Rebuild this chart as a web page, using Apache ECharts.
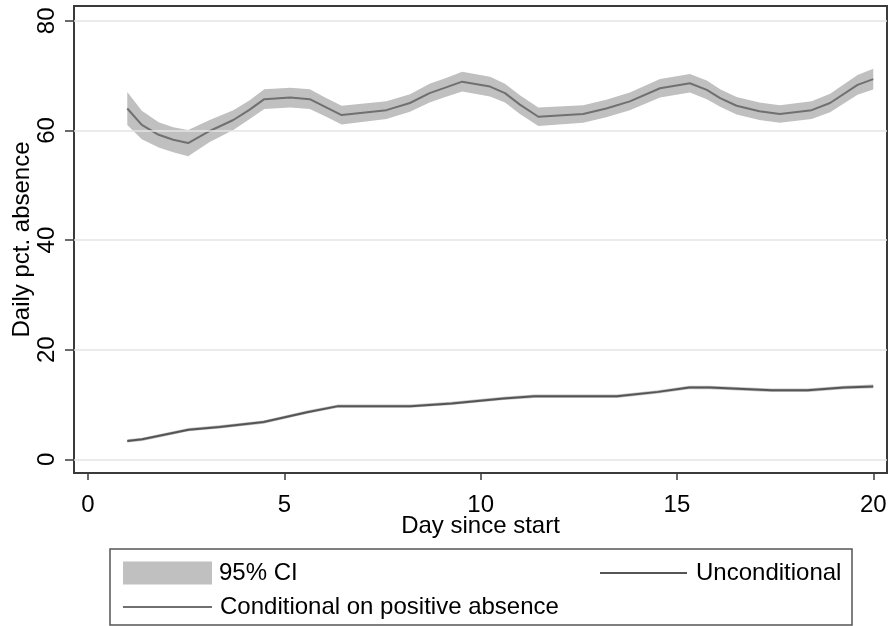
<!DOCTYPE html>
<html>
<head>
<meta charset="utf-8">
<script src="https://cdn.jsdelivr.net/npm/echarts@6/dist/echarts.min.js"></script>
<style>html,body{margin:0;padding:0;background:#fff}#c{width:890px;height:626px}</style>
</head>
<body>
<div id="c"></div>
<script>
// Conditional on positive absence (upper curve)
var condDays = [1, 1.37, 1.8, 2.17, 2.55, 3.1, 3.7, 4.1, 4.49, 5.15, 5.65, 6.04, 6.46, 7.6, 8.2, 8.7, 9.1, 9.53, 10.24, 10.62, 11.0, 11.47, 12.61, 13.2, 13.8, 14.57, 15.33, 15.76, 16.1, 16.52, 17.1, 17.62, 18.43, 18.9, 19.6, 20];
var condMean = [64.0, 61.0, 59.2, 58.3, 57.7, 59.9, 61.9, 63.7, 65.7, 66.0, 65.7, 64.3, 62.8, 63.7, 65.0, 66.8, 67.8, 68.9, 68.0, 66.8, 64.7, 62.5, 63.0, 64.0, 65.3, 67.7, 68.6, 67.4, 65.9, 64.5, 63.5, 63.0, 63.7, 65.0, 68.3, 69.35];
var condHalfCI = [3.0, 2.6, 2.3, 2.3, 2.4, 2.0, 1.8, 1.7, 1.8, 1.8, 1.8, 1.7, 1.7, 1.6, 1.6, 1.7, 1.7, 1.8, 1.8, 1.7, 1.7, 1.7, 1.6, 1.6, 1.6, 1.7, 1.7, 1.7, 1.6, 1.6, 1.6, 1.6, 1.6, 1.7, 1.8, 1.9];
// Unconditional (lower curve)
var uncDays = [1, 1.38, 2.56, 3.35, 4.47, 5.58, 6.37, 8.21, 9.26, 10.58, 11.37, 13.47, 14.52, 15.31, 15.84, 17.41, 18.33, 19.25, 20];
var uncMean = [3.35, 3.65, 5.4, 5.9, 6.8, 8.6, 9.7, 9.7, 10.2, 11.1, 11.5, 11.5, 12.3, 13.1, 13.1, 12.6, 12.6, 13.1, 13.3];
var uncHalfCI = [0.3, 0.3, 0.3, 0.3, 0.3, 0.3, 0.3, 0.3, 0.3, 0.3, 0.3, 0.3, 0.3, 0.3, 0.3, 0.3, 0.3, 0.3, 0.35];
// Axis ticks
var xTicks = [0, 5, 10, 15, 20];
var yTicks = [0, 20, 40, 60, 80];

var FONT = "'Liberation Sans', Arial, sans-serif";
var bandColor = '#c0c0c0';
function pairs(xs, ys) { return xs.map(function (x, i) { return [x, ys[i]]; }); }
function bandRows(xs, m, h) { return xs.map(function (x, i) { return [x, m[i] - h[i], m[i] + h[i]]; }); }
function bandRender(rows) {
  return function (params, api) {
    if (params.dataIndex !== 0) return null;
    var pts = [], i;
    for (i = 0; i < rows.length; i++) pts.push(api.coord([rows[i][0], rows[i][2]]));
    for (i = rows.length - 1; i >= 0; i--) pts.push(api.coord([rows[i][0], rows[i][1]]));
    return { type: 'polygon', shape: { points: pts }, style: { fill: bandColor, stroke: null } };
  };
}
var condBand = bandRows(condDays, condMean, condHalfCI);
var uncBand = bandRows(uncDays, uncMean, uncHalfCI);

var chart = echarts.init(document.getElementById('c'), null, { renderer: 'canvas' });
var option = {
  animation: false,
  backgroundColor: '#fff',
  grid: { left: 74, right: 3, top: 6, bottom: 153, containLabel: false, outerBoundsMode: 'none',
    show: true, borderColor: '#3a3a3a', borderWidth: 2, backgroundColor: 'transparent' },
  xAxis: {
    type: 'value', min: -0.357, max: 20.35,
    name: 'Day since start', nameLocation: 'middle', nameGap: 41, nameMoveOverlap: false,
    nameTextStyle: { fontFamily: FONT, fontSize: 24, color: '#000' },
    axisLine: { show: true, onZero: false, lineStyle: { color: '#3a3a3a', width: 2 } },
    axisTick: { show: true, length: 7, customValues: xTicks, lineStyle: { color: '#3a3a3a', width: 1.5 } },
    axisLabel: { customValues: xTicks, margin: 20, fontFamily: FONT, fontSize: 24, color: '#000' },
    splitLine: { show: false }
  },
  yAxis: {
    type: 'value', min: -2.5, max: 82.7,
    name: 'Daily pct. absence', nameLocation: 'middle', nameGap: 40, nameRotate: 90, nameMoveOverlap: false,
    nameTextStyle: { fontFamily: FONT, fontSize: 24, color: '#000' },
    axisLine: { show: true, onZero: false, lineStyle: { color: '#3a3a3a', width: 2 } },
    axisTick: { show: true, length: 9, customValues: yTicks, lineStyle: { color: '#3a3a3a', width: 1.5 } },
    axisLabel: { customValues: yTicks, rotate: 90, margin: 15, fontFamily: FONT, fontSize: 24, color: '#000' },
    splitLine: { show: false }
  },
  legend: [
    { data: [{ name: '95% CI', icon: 'rect' }], left: 118, top: 556, itemWidth: 89, itemHeight: 23,
      textStyle: { fontFamily: FONT, fontSize: 24, color: '#000', padding: [0, 0, 0, 2] }, selectedMode: false },
    { data: [{ name: 'Unconditional', icon: 'rect' }], left: 595, top: 556, itemWidth: 87, itemHeight: 2,
      textStyle: { fontFamily: FONT, fontSize: 24, color: '#000', padding: [0, 0, 0, 4] }, selectedMode: false },
    { data: [{ name: 'Conditional on positive absence', icon: 'rect' }], left: 118, top: 590, itemWidth: 89, itemHeight: 2,
      textStyle: { fontFamily: FONT, fontSize: 24, color: '#000', padding: [0, 0, 0, 3] }, selectedMode: false }
  ],
  graphic: [
    { type: 'rect', shape: { x: 110, y: 549, width: 742, height: 76 }, style: { fill: 'none', stroke: '#555', lineWidth: 1.5 }, silent: true }
  ],
  series: [
    { name: 'grid', type: 'line', data: [], z: 1, silent: true,
      markLine: { silent: true, symbol: 'none', label: { show: false }, animation: false,
        lineStyle: { color: '#e4e4e4', width: 1.5, type: 'solid' },
        data: yTicks.map(function (v) { return { yAxis: v }; }) } },
    { name: '95% CI', type: 'custom', data: condBand, renderItem: bandRender(condBand),
      encode: { x: 0, y: [1, 2] }, itemStyle: { color: bandColor }, z: 2, silent: true },
    { name: '95% CI', type: 'custom', data: uncBand, renderItem: bandRender(uncBand),
      encode: { x: 0, y: [1, 2] }, itemStyle: { color: bandColor }, z: 2, silent: true },
    { name: 'Unconditional', type: 'line', data: pairs(uncDays, uncMean), symbol: 'none',
      itemStyle: { color: '#555555' }, lineStyle: { color: '#555555', width: 2 }, z: 3 },
    { name: 'Conditional on positive absence', type: 'line', data: pairs(condDays, condMean), symbol: 'none',
      itemStyle: { color: '#707070' }, lineStyle: { color: '#707070', width: 2 }, z: 3 }
  ]
};
chart.setOption(option);
</script>
</body>
</html>
